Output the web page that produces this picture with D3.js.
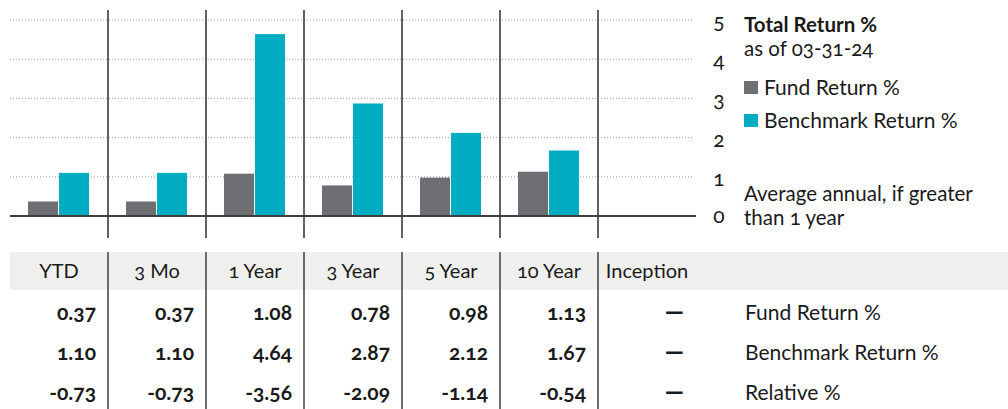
<!DOCTYPE html>
<html>
<head>
<meta charset="utf-8">
<script src="https://cdn.jsdelivr.net/npm/d3@7"></script>
<style>
  html, body { margin: 0; padding: 0; background: #fff; }
  svg text { font-family: Lato, "Open Sans", sans-serif; font-variant-numeric: oldstyle-nums; font-feature-settings: "onum" 1; fill: #1a1a1a; }
</style>
</head>
<body>
<svg id="chart" width="1008" height="409"></svg>
<script>
// ---- data ----
const categories = ["YTD", "3 Mo", "1 Year", "3 Year", "5 Year", "10 Year", "Inception"];
const fundReturn = [0.37, 0.37, 1.08, 0.78, 0.98, 1.13, null];
const benchmarkReturn = [1.10, 1.10, 4.64, 2.87, 2.12, 1.67, null];
const relativeReturn = [-0.73, -0.73, -3.56, -2.09, -1.14, -0.54, null];
const yTicks = [0, 1, 2, 3, 4, 5];
const seriesNames = ["Fund Return %", "Benchmark Return %"];
const rowLabels = ["Fund Return %", "Benchmark Return %", "Relative %"];
const colors = ["#6d6f73", "#00acbf"];

const svg = d3.select("#chart");

const x = d3.scaleBand().domain(categories).range([10, 696]).paddingInner(0).paddingOuter(0);
const x1 = d3.scaleBand().domain(seriesNames).range([18, 79]).paddingInner(1 / 31);
const y = d3.scaleLinear().domain([0, 5]).range([216, 20]);

// gridlines
svg.append("g").selectAll("line").data(yTicks.filter(t => t > 0)).join("line")
  .attr("x1", 10).attr("x2", 694)
  .attr("y1", d => y(d)).attr("y2", d => y(d))
  .attr("stroke", "#a0a0a0").attr("stroke-width", 1).attr("stroke-dasharray", "1,2");

// bars
const rows = categories.map((c, i) => ({ cat: c, vals: [fundReturn[i], benchmarkReturn[i]] }));
const groups = svg.append("g").selectAll("g").data(rows).join("g")
  .attr("transform", d => `translate(${x(d.cat)},0)`);
groups.selectAll("rect").data(d => d.vals.map((v, j) => ({ v, s: seriesNames[j], j })).filter(e => e.v !== null))
  .join("rect")
  .attr("x", e => x1(e.s)).attr("width", x1.bandwidth())
  .attr("y", e => y(e.v)).attr("height", e => y(0) - y(e.v))
  .attr("fill", e => colors[e.j]);

// baseline
svg.append("line").attr("x1", 10).attr("x2", 696).attr("y1", y(0)).attr("y2", y(0))
  .attr("stroke", "#3e3e3e").attr("stroke-width", 2);

// vertical separators in chart
const seps = categories.slice(1);
svg.append("g").selectAll("line").data(seps).join("line")
  .attr("x1", d => x(d)).attr("x2", d => x(d))
  .attr("y1", 10).attr("y2", 238)
  .attr("stroke", "#3a3a3a").attr("stroke-width", 1.6);

// y axis labels
svg.append("g").selectAll("text").data(yTicks).join("text")
  .attr("x", 719).attr("y", d => y(d) + (d === 0 ? 7 : 9))
  .attr("text-anchor", "middle").attr("font-size", 21)
  .text(d => d);

// legend
const lg = svg.append("g");
lg.append("text").attr("x", 744).attr("y", 32).attr("font-size", 20.5).attr("font-weight", 700).text("Total Return %");
lg.append("text").attr("x", 744).attr("y", 56).attr("font-size", 20.5).text("as of 03-31-24");
seriesNames.forEach((s, i) => {
  lg.append("rect").attr("x", 744).attr("y", 81 + i * 33).attr("width", 14).attr("height", 13).attr("fill", colors[i]);
  lg.append("text").attr("x", 764).attr("y", 95 + i * 33).attr("font-size", 21).text(s);
});
lg.append("text").attr("x", 744).attr("y", 201).attr("font-size", 20.5).text("Average annual, if greater");
lg.append("text").attr("x", 744).attr("y", 225).attr("font-size", 20.5).text("than 1 year");

// table header band
svg.append("rect").attr("x", 10).attr("y", 252).attr("width", 998).attr("height", 38).attr("fill", "#efefed");
svg.append("g").selectAll("text").data(categories).join("text")
  .attr("x", d => x(d) + x.bandwidth() / 2).attr("y", 278)
  .attr("text-anchor", "middle").attr("font-size", 20)
  .text(d => d);

// table vertical separators
svg.append("g").selectAll("line").data(seps).join("line")
  .attr("x1", d => x(d)).attr("x2", d => x(d))
  .attr("y1", 252).attr("y2", 409)
  .attr("stroke", "#4a4a4a").attr("stroke-width", 1.6);

// table rows
const tableRows = [fundReturn, benchmarkReturn, relativeReturn];
tableRows.forEach((arr, r) => {
  const yy = 320 + r * 40;
  svg.append("g").selectAll("text").data(categories).join("text")
    .attr("x", d => x(d) + x.bandwidth() - 12).attr("y", yy)
    .attr("text-anchor", "end").attr("font-size", (d, i) => arr[i] === null ? 24 : 21).attr("font-weight", (d, i) => arr[i] === null ? 900 : 700)
    .text((d, i) => arr[i] === null ? "\u2014" : arr[i].toFixed(2));
  svg.append("text").attr("x", 745).attr("y", yy).attr("font-size", 21).text(rowLabels[r]);
});
</script>
</body>
</html>
